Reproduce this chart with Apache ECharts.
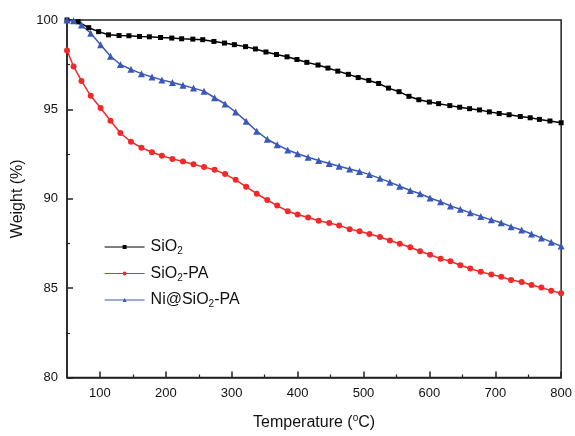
<!DOCTYPE html>
<html>
<head>
<meta charset="utf-8">
<script src="https://cdn.jsdelivr.net/npm/echarts@6/dist/echarts.min.js"></script>
<style>html,body{margin:0;padding:0;background:#fff}#c{width:575px;height:436px}</style>
</head>
<body>
<div id="c"></div>
<script>
// Temperatures (°C) for SiO2 markers
const tempsSiO2 = [50,67,83,98,113,129,144,160,175,192,209,224,241,256,273,289,304,321,336,352,368,384,399,414,431,446,461,477,492,508,523,538,554,569,584,600,614,631,646,661,676,691,706,721,738,753,767,783,800];
const weightSiO2 = [100.0,99.9,99.57,99.35,99.17,99.13,99.12,99.08,99.06,99.02,98.99,98.95,98.93,98.90,98.80,98.71,98.62,98.51,98.38,98.21,98.07,97.94,97.79,97.63,97.48,97.31,97.14,96.96,96.78,96.62,96.45,96.19,95.99,95.73,95.54,95.41,95.32,95.21,95.12,95.04,94.97,94.86,94.77,94.70,94.60,94.53,94.44,94.35,94.25];
// Temperatures (°C) for SiO2-PA and Ni@SiO2-PA markers
const tempsPA = [50,60,72,86,101,116,131,147,163,179,194,210,226,242,258,274,290,306,322,338,354,369,385,400,416,432,448,463,479,494,509,525,540,555,571,586,601,617,632,647,662,678,694,709,724,740,755,770,785,800];
const weightSiO2PA = [98.30,97.40,96.59,95.76,95.08,94.36,93.68,93.19,92.86,92.60,92.41,92.23,92.08,91.93,91.77,91.62,91.38,91.06,90.67,90.28,89.93,89.62,89.30,89.12,88.95,88.77,88.64,88.51,88.30,88.18,88.03,87.86,87.66,87.48,87.29,87.06,86.87,86.65,86.50,86.28,86.10,85.91,85.76,85.64,85.45,85.34,85.17,85.03,84.86,84.71];
const weightNiSiO2PA = [100.0,99.96,99.72,99.26,98.62,97.97,97.51,97.24,97.00,96.81,96.65,96.50,96.35,96.19,96.02,95.65,95.30,94.85,94.33,93.78,93.33,93.02,92.73,92.52,92.32,92.14,91.97,91.82,91.66,91.53,91.35,91.14,90.93,90.70,90.46,90.28,90.04,89.83,89.60,89.41,89.21,89.01,88.82,88.66,88.44,88.25,88.03,87.81,87.57,87.35];
const xMajorTicks = [100,200,300,400,500,600,700,800];
const xMinorTicks = [150,250,350,450,550,650,750];
const seriesNames = ['SiO2','SiO2-PA','Ni@SiO2-PA'];

const pair = (xs, ys) => xs.map((x, i) => [x, ys[i]]);
const FONT = 'Liberation Sans, Arial, sans-serif';
const chart = echarts.init(document.getElementById('c'), null, {renderer: 'canvas'});
const axisColor = '#222';
chart.setOption({
  animation: false,
  backgroundColor: '#fff',
  grid: {left: 67, right: 12, top: 20, bottom: 54, show: true, borderColor: axisColor, borderWidth: 1.5, backgroundColor: 'transparent'},
  legend: {
    orient: 'vertical', left: 104, top: 239, padding: 0, itemWidth: 40, itemHeight: 5, itemGap: 9,
    data: seriesNames,
    lineStyle: {width: 1.2},
    formatter: function (name) {
      if (name === 'SiO2') return '{n|SiO}{s|2}';
      if (name === 'SiO2-PA') return '{n|SiO}{s|2}{n|-PA}';
      return '{n|Ni@SiO}{s|2}{n|-PA}';
    },
    textStyle: {
      color: '#111', fontFamily: FONT, padding: [0, 0, 0, 1],
      rich: {
        n: {fontSize: 16, fontFamily: FONT, color: '#111'},
        s: {fontSize: 10, fontFamily: FONT, color: '#111', padding: [9, 0, 0, 0]}
      }
    }
  },
  xAxis: [{
    type: 'value', min: 50, max: 800,
    name: 'Temperature ({sup|o}C)', nameLocation: 'middle', nameGap: 36,
    nameTextStyle: {fontSize: 16, fontFamily: FONT, color: '#111',
      rich: {sup: {fontSize: 10, fontFamily: FONT, color: '#111', padding: [0, 0, 9, 0]}}},
    axisLine: {show: true, lineStyle: {color: axisColor, width: 1.5}},
    axisTick: {show: true, inside: true, length: 6, customValues: xMajorTicks, lineStyle: {color: axisColor, width: 1.5}},
    axisLabel: {show: true, customValues: xMajorTicks, fontSize: 13, fontFamily: FONT, color: '#111', margin: 9},
    splitLine: {show: false}
  }, {
    type: 'value', min: 50, max: 800, position: 'bottom',
    axisLine: {show: false},
    axisTick: {show: true, inside: true, length: 3, customValues: xMinorTicks, lineStyle: {color: axisColor, width: 1.2}},
    axisLabel: {show: false},
    splitLine: {show: false}
  }],
  yAxis: {
    type: 'value', min: 80, max: 100, interval: 5,
    name: 'Weight (%)', nameLocation: 'middle', nameGap: 33,
    nameTextStyle: {fontSize: 16, fontFamily: FONT, color: '#111'},
    axisLine: {show: true, lineStyle: {color: axisColor, width: 1.5}},
    axisTick: {show: true, inside: true, length: 6, lineStyle: {color: axisColor, width: 1.5}},
    minorTick: {show: true, splitNumber: 2, length: 3, lineStyle: {color: axisColor, width: 1.2}},
    axisLabel: {fontSize: 13, fontFamily: FONT, color: '#111', margin: 9},
    splitLine: {show: false}
  },
  series: [
    {name: 'SiO2', type: 'line', data: pair(tempsSiO2, weightSiO2), symbol: 'rect', symbolSize: 5,
     itemStyle: {color: '#000'}, lineStyle: {color: '#000', width: 1.5}},
    {name: 'SiO2-PA', type: 'line', data: pair(tempsPA, weightSiO2PA), symbol: 'circle', symbolSize: 6,
     itemStyle: {color: '#f02a2a'}, lineStyle: {color: '#f02a2a', width: 1.5}},
    {name: 'Ni@SiO2-PA', type: 'line', data: pair(tempsPA, weightNiSiO2PA), symbol: 'triangle', symbolSize: 7,
     itemStyle: {color: '#3a58b8'}, lineStyle: {color: '#3a58b8', width: 1.5}}
  ]
});
</script>
</body>
</html>
